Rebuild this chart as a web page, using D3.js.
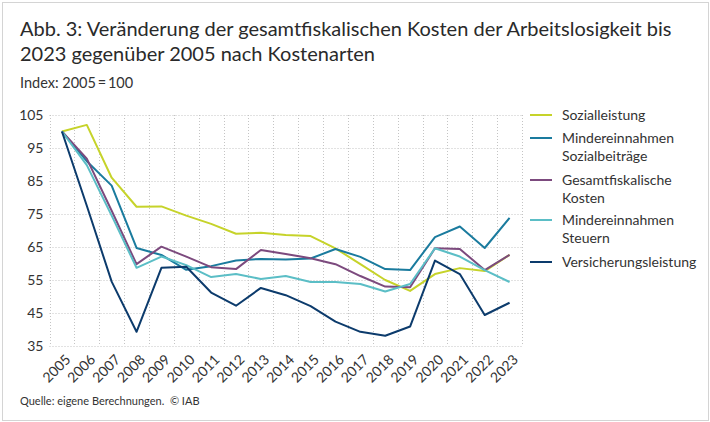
<!DOCTYPE html>
<html>
<head>
<meta charset="utf-8">
<script src="https://cdn.jsdelivr.net/npm/d3@7"></script>
<style>
  body { margin: 0; background: #fff; }
  svg { display: block; font-family: "Lato", "Noto Sans", sans-serif; }
  .grid line { stroke: #c4c4c4; stroke-width: 1; stroke-dasharray: 1,2; }
  .axis text { fill: #333; font-size: 14px; font-family: "Lato", "Noto Sans", sans-serif; }
</style>
</head>
<body>
<svg id="chart" width="710" height="422"></svg>
<script>
// years on the x axis
var years = [2005, 2006, 2007, 2008, 2009, 2010, 2011, 2012, 2013, 2014,
             2015, 2016, 2017, 2018, 2019, 2020, 2021, 2022, 2023];
var yTicks = [35, 45, 55, 65, 75, 85, 95, 105];

// index values per cost type (2005 = 100)
var sozialleistung       = [100, 102, 86, 77.2, 77.3, 74.5, 72, 69, 69.3, 68.6, 68.3, 64.6, 59.8, 55, 51.7, 56.8, 58.6, 57.7, 62.6];
var minderSozialbeitr    = [100, 91, 83.6, 64.7, 62.6, 58.1, 59.2, 60.9, 61.4, 61.2, 61.5, 64.4, 62, 58.3, 58, 68, 71.2, 64.7, 73.8];
var gesamtfiskalisch     = [100, 91.8, 76, 59.8, 65.1, 62.1, 58.9, 58.3, 64.1, 62.9, 61.6, 59.8, 56.2, 53, 52.8, 64.6, 64.4, 58, 62.6];
var minderSteuern        = [100, 89.8, 74.5, 58.7, 62.1, 59.5, 55.9, 56.8, 55.3, 56.2, 54.4, 54.4, 53.8, 51.5, 53.8, 64.6, 62.1, 58, 54.4];
var versicherungsleist   = [100, 77.5, 54.5, 39.3, 58.7, 59, 51.2, 47.2, 52.6, 50.4, 47.1, 42.4, 39.3, 38.1, 40.9, 60.9, 56.8, 44.4, 48.1];

var seriesNames  = ["Sozialleistung", "Mindereinnahmen Sozialbeiträge", "Gesamtfiskalische Kosten", "Mindereinnahmen Steuern", "Versicherungsleistung"];
var legendLines  = [["Sozialleistung"], ["Mindereinnahmen", "Sozialbeiträge"], ["Gesamtfiskalische", "Kosten"], ["Mindereinnahmen", "Steuern"], ["Versicherungsleistung"]];
var seriesColors = ["#c6d32a", "#1a7b9e", "#7c4a7e", "#5bbec6", "#0c3b6c"];
var seriesValues = [sozialleistung, minderSozialbeitr, gesamtfiskalisch, minderSteuern, versicherungsleist];

var svg = d3.select("#chart");

// light frame round the whole figure
svg.append("rect")
   .attr("x", 2.5).attr("y", 2.5).attr("width", 706).attr("height", 418)
   .attr("fill", "none").attr("stroke", "#d4d4d4");

// title + subtitle
var title = svg.append("g").attr("fill", "#2a2a2a");
title.append("text").attr("x", 20).attr("y", 36).attr("font-size", 20)
     .text("Abb. 3: Veränderung der gesamtfiskalischen Kosten der Arbeitslosigkeit bis");
title.append("text").attr("x", 20).attr("y", 61).attr("font-size", 20)
     .text("2023 gegenüber 2005 nach Kostenarten");
svg.append("text").attr("x", 20).attr("y", 88).attr("font-size", 14.5).attr("fill", "#333")
   .text("Index: 2005\u2009=\u2009100");

var plotLeft = 49.5, plotRight = 522, plotTop = 115, plotBottom = 346;

var x = d3.scaleBand().domain(years).range([plotLeft, plotRight]);
var y = d3.scaleLinear().domain([35, 105]).range([plotBottom, plotTop]);

// grid: horizontal at ticks, vertical at band edges
var grid = svg.append("g").attr("class", "grid");
grid.selectAll("line.h").data(yTicks).enter().append("line")
    .attr("x1", plotLeft).attr("x2", plotRight)
    .attr("y1", function(d) { return Math.round(y(d)) + 0.5; })
    .attr("y2", function(d) { return Math.round(y(d)) + 0.5; });
var edges = years.map(function(d) { return x(d); }).concat([plotRight]);
grid.selectAll("line.v").data(edges).enter().append("line")
    .attr("x1", function(d) { return Math.round(d) + 0.5; })
    .attr("x2", function(d) { return Math.round(d) + 0.5; })
    .attr("y1", plotTop).attr("y2", plotBottom);

// y axis labels
var yAxis = svg.append("g").attr("class", "axis")
   .attr("transform", "translate(" + (plotLeft - 6) + ",0)")
   .call(d3.axisLeft(y).tickValues(yTicks).tickSize(0).tickPadding(0));
yAxis.select(".domain").remove();
yAxis.selectAll("text").attr("dy", "0.35em");

// x axis labels, rotated
var xAxis = svg.append("g").attr("class", "axis")
   .attr("transform", "translate(0," + plotBottom + ")")
   .call(d3.axisBottom(x).tickSize(0).tickPadding(0));
xAxis.select(".domain").remove();
xAxis.selectAll("text")
   .attr("text-anchor", "end")
   .attr("y", 0)
   .attr("dy", "0.35em")
   .attr("transform", "translate(6,11) rotate(-45)");

// lines
var line = d3.line()
   .x(function(d, i) { return x(years[i]) + x.bandwidth() / 2; })
   .y(function(d) { return y(d); });

svg.append("g").selectAll("path").data(seriesValues).enter().append("path")
   .attr("d", line)
   .attr("fill", "none")
   .attr("stroke", function(d, i) { return seriesColors[i]; })
   .attr("stroke-width", 2)
   .attr("stroke-linejoin", "round");

// legend
var legendY = [115, 138, 180, 220, 262];
var legend = svg.append("g").selectAll("g").data(seriesNames).enter().append("g")
   .attr("transform", function(d, i) { return "translate(530," + legendY[i] + ")"; });
legend.append("line")
   .attr("x1", 0).attr("x2", 22).attr("y1", 0).attr("y2", 0)
   .attr("stroke", function(d, i) { return seriesColors[i]; })
   .attr("stroke-width", 2);
legend.append("text")
   .attr("x", 32).attr("y", 0).attr("font-size", 14).attr("fill", "#333")
   .selectAll("tspan").data(function(d, i) { return legendLines[i]; }).enter().append("tspan")
   .attr("x", 32)
   .attr("dy", function(d, j) { return j === 0 ? "0.35em" : "18.5"; })
   .text(function(d) { return d; });

// source
svg.append("text").attr("x", 20).attr("y", 405).attr("font-size", 11).attr("fill", "#333")
   .style("white-space", "pre")
   .text("Quelle: eigene Berechnungen.  \u00a9 IAB");
</script>
</body>
</html>
